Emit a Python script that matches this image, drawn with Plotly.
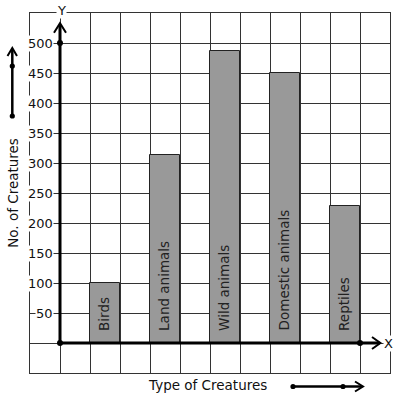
import plotly.graph_objects as go

categories = ["Birds", "Land animals", "Wild animals", "Domestic animals", "Reptiles"]
values = [100, 314, 487, 450, 228]
bar_positions = [1.5, 3.5, 5.5, 7.5, 9.5]
y_ticks = [50, 100, 150, 200, 250, 300, 350, 400, 450, 500]

FONT = "DejaVu Sans"
W, H = 397, 399
L, R, T, B = 30, 7, 13, 26

def px_to_paper_x(px):
    return (px - L) / (W - L - R)

def px_to_paper_y(py):
    return (H - B - py) / (H - T - B)

fig = go.Figure()

fig.add_trace(go.Bar(
    x=bar_positions, y=values, width=1,
    marker=dict(color="#999999", line=dict(color="#222222", width=1)),
    hoverinfo="skip", showlegend=False,
))

shapes = []
black = "#000000"
# Y axis
shapes.append(dict(type="line", xref="x", yref="y", x0=0, y0=0, x1=0, y1=530,
                   line=dict(color=black, width=3)))
shapes.append(dict(type="path", xref="x", yref="y",
                   path="M -0.2,517 L 0,533 L 0.2,517",
                   line=dict(color=black, width=2)))
# X axis
shapes.append(dict(type="line", xref="x", yref="y", x0=0, y0=0, x1=10.65, y1=0,
                   line=dict(color=black, width=3)))
shapes.append(dict(type="path", xref="x", yref="y",
                   path="M 10.4,10 L 10.68,0 L 10.4,-10",
                   line=dict(color=black, width=2)))

# Outside decorative arrows (paper coords)
lx = px_to_paper_x(12.3)
shapes.append(dict(type="line", xref="paper", yref="paper",
                   x0=lx, x1=lx, y0=px_to_paper_y(116), y1=px_to_paper_y(49),
                   line=dict(color=black, width=2.5)))
shapes.append(dict(type="path", xref="paper", yref="paper",
                   path=f"M {px_to_paper_x(7.5)},{px_to_paper_y(56)} L {lx},{px_to_paper_y(48)} L {px_to_paper_x(17)},{px_to_paper_y(56)}",
                   line=dict(color=black, width=2)))
by = px_to_paper_y(386.5)
shapes.append(dict(type="line", xref="paper", yref="paper",
                   x0=px_to_paper_x(293), x1=px_to_paper_x(362), y0=by, y1=by,
                   line=dict(color=black, width=2.5)))
shapes.append(dict(type="path", xref="paper", yref="paper",
                   path=f"M {px_to_paper_x(355)},{px_to_paper_y(381.5)} L {px_to_paper_x(363)},{by} L {px_to_paper_x(355)},{px_to_paper_y(391.5)}",
                   line=dict(color=black, width=2)))
for (cx, cy) in [(12.3, 66), (12.3, 116), (293, 386.5), (343, 386.5)]:
    r = 2.6
    shapes.append(dict(type="circle", xref="paper", yref="paper",
                       x0=px_to_paper_x(cx - r), x1=px_to_paper_x(cx + r),
                       y0=px_to_paper_y(cy + r), y1=px_to_paper_y(cy - r),
                       fillcolor=black, line=dict(color=black, width=0)))

# dots on axes
fig.add_trace(go.Scatter(
    x=[0, 0, 10], y=[0, 500, 0], mode="markers",
    marker=dict(color=black, size=6), hoverinfo="skip", showlegend=False,
))

annotations = []
for t in y_ticks:
    annotations.append(dict(x=-0.2, y=t, xref="x", yref="y", text=str(t),
                            showarrow=False, xanchor="right", yanchor="middle",
                            bgcolor="white", borderpad=0,
                            font=dict(family=FONT, size=13, color="#111111")))
for c, xp in zip(categories, bar_positions):
    annotations.append(dict(x=xp - 0.03, y=17, xref="x", yref="y", text=c,
                            showarrow=False, textangle=-90,
                            xanchor="center", yanchor="bottom",
                            font=dict(family=FONT, size=13.5, color="#222222")))
annotations.append(dict(x=0.05, y=px_to_paper_y(10), xref="x", yref="paper", text="Y",
                        showarrow=False, bgcolor="white", borderpad=0,
                        xanchor="center", yanchor="middle",
                        font=dict(family=FONT, size=13, color="#111111")))
annotations.append(dict(x=px_to_paper_x(388.5), y=0, xref="paper", yref="y", text="X",
                        showarrow=False, bgcolor="white", borderpad=0,
                        xanchor="center", yanchor="middle",
                        font=dict(family=FONT, size=13, color="#111111")))
annotations.append(dict(x=px_to_paper_x(207), y=px_to_paper_y(385), xref="paper", yref="paper",
                        text="Type of Creatures", showarrow=False,
                        xanchor="center", yanchor="middle",
                        font=dict(family=FONT, size=13.5, color="#111111")))
annotations.append(dict(x=px_to_paper_x(12.3), y=px_to_paper_y(192.5), xref="paper", yref="paper",
                        text="No. of Creatures", showarrow=False, textangle=-90,
                        xanchor="center", yanchor="middle",
                        font=dict(family=FONT, size=13.5, color="#111111")))

fig.update_layout(
    width=W, height=H,
    margin=dict(l=L, r=R, t=T, b=B, pad=0),
    paper_bgcolor="white", plot_bgcolor="white",
    shapes=shapes, annotations=annotations,
    showlegend=False, bargap=0,
    font=dict(family=FONT, size=13),
)
fig.update_xaxes(range=[-1, 11], dtick=1, tick0=0, showgrid=True, gridcolor="#333333",
                 gridwidth=1, showticklabels=False, zeroline=False, ticks="",
                 showline=True, mirror=True, linecolor="#333333", linewidth=1, fixedrange=True)
fig.update_yaxes(range=[-50, 550], dtick=50, tick0=0, showgrid=True, gridcolor="#333333",
                 gridwidth=1, showticklabels=False, zeroline=False, ticks="",
                 showline=True, mirror=True, linecolor="#333333", linewidth=1, fixedrange=True)

fig.write_html("out.html", config={"displayModeBar": False},
               post_script="document.body.style.margin='0';document.body.style.overflow='hidden';")
